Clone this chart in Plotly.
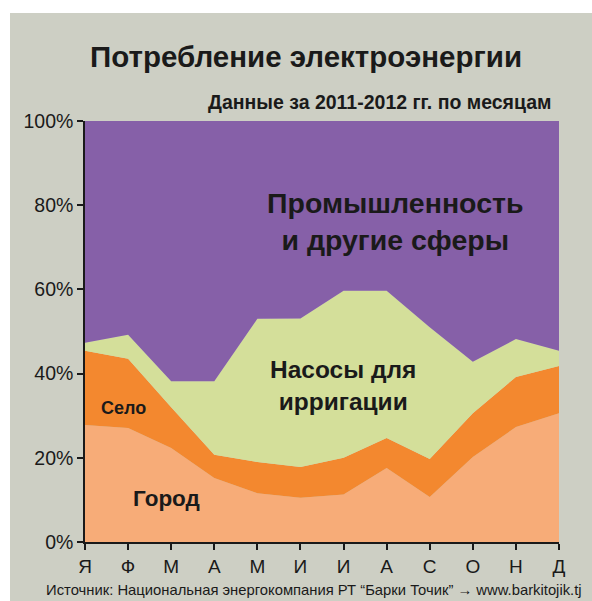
import plotly.graph_objects as go

# Monthly shares of electricity consumption, % (2011-2012)
months = ["Я", "Ф", "М", "А", "М", "И", "И", "А", "С", "О", "Н", "Д"]
city = [27.8, 27.1, 22.3, 15.2, 11.6, 10.5, 11.3, 17.6, 10.7, 20.2, 27.3, 30.6]
village = [17.6, 16.4, 9.7, 5.5, 7.4, 7.3, 8.7, 7.1, 9.0, 10.4, 11.9, 11.2]
irrigation = [1.9, 5.7, 6.2, 17.5, 34.0, 35.3, 39.7, 35.0, 31.3, 12.2, 9.0, 3.6]
industry = [52.7, 50.8, 61.8, 61.8, 47.0, 46.9, 40.3, 40.3, 49.0, 57.2, 51.8, 54.6]

series = [
    ("Город", city, "#F7AC78"),
    ("Село", village, "#F3882F"),
    ("Насосы для ирригации", irrigation, "#D4DF9A"),
    ("Промышленность и другие сферы", industry, "#8660A8"),
]

x = list(range(len(months)))
FONT = "Liberation Sans, Arial, sans-serif"
INK = "#1a1a1a"
BG = "#CDCFC4"

fig = go.Figure()
for name, vals, color in series:
    fig.add_trace(go.Scatter(
        x=x, y=vals, name=name, mode="lines",
        stackgroup="one", groupnorm="percent",
        line=dict(width=0, color=color), fillcolor=color,
        hoverinfo="skip",
    ))

L, R, T, B = 85, 33, 121, 59
W, H = 592, 601
pw, ph = W - L - R, H - T - B


def px_x(p):
    return (p - L) / pw


def px_y(p):
    return (H - B - p) / ph


fig.add_shape(type="rect", xref="paper", yref="paper", layer="below",
              x0=px_x(10), x1=px_x(W + 5), y0=px_y(H + 5), y1=px_y(13),
              fillcolor=BG, line=dict(width=0))

annotations = [
    dict(text="<b>Потребление электроэнергии</b>", x=px_x(305.5), y=px_y(57), size=29.5),
    dict(text="<b>Данные за 2011-2012 гг. по месяцам</b>", x=px_x(553), y=px_y(102),
         size=19.5, xanchor="right"),
    dict(text="<b>Промышленность<br>и другие сферы</b>", x=px_x(395), y=px_y(221), size=28.5),
    dict(text="<b>Насосы для<br>ирригации</b>", x=px_x(343), y=px_y(385), size=24.5),
    dict(text="<b>Село</b>", x=px_x(123), y=px_y(408), size=18),
    dict(text="<b>Город</b>", x=px_x(166), y=px_y(498), size=22.5),
    dict(text="Источник: Национальная энергокомпания РТ “Барки Точик” → www.barkitojik.tj",
         x=px_x(313.5), y=px_y(590), size=14.8),
]
for a in annotations:
    fig.add_annotation(
        text=a["text"], x=a["x"], y=a["y"], xref="paper", yref="paper",
        xanchor=a.get("xanchor", "center"), yanchor="middle", showarrow=False,
        font=dict(family=FONT, size=a["size"], color=INK), align="center",
    )

fig.update_layout(
    width=W, height=H,
    margin=dict(l=L, r=R, t=T, b=B, pad=0),
    paper_bgcolor="white", plot_bgcolor=BG,
    showlegend=False,
    font=dict(family=FONT, color=INK),
    xaxis=dict(
        range=[0, len(months) - 1], tickmode="array", tickvals=x, ticktext=months,
        showgrid=False, zeroline=False, showline=True, linecolor=INK, linewidth=1.5,
        ticks="outside", ticklen=6, tickcolor=INK, tickwidth=1.5,
        tickfont=dict(size=19, color=INK), fixedrange=True,
    ),
    yaxis=dict(
        range=[0, 100], tickmode="array", tickvals=[0, 20, 40, 60, 80, 100],
        ticktext=["0%", "20%", "40%", "60%", "80%", "100%"],
        showgrid=False, zeroline=False, showline=True, linecolor=INK, linewidth=1.5,
        ticks="outside", ticklen=6, tickcolor=INK, tickwidth=1.5,
        tickfont=dict(size=19.5, color=INK), fixedrange=True,
    ),
)

fig.write_html("out.html")
